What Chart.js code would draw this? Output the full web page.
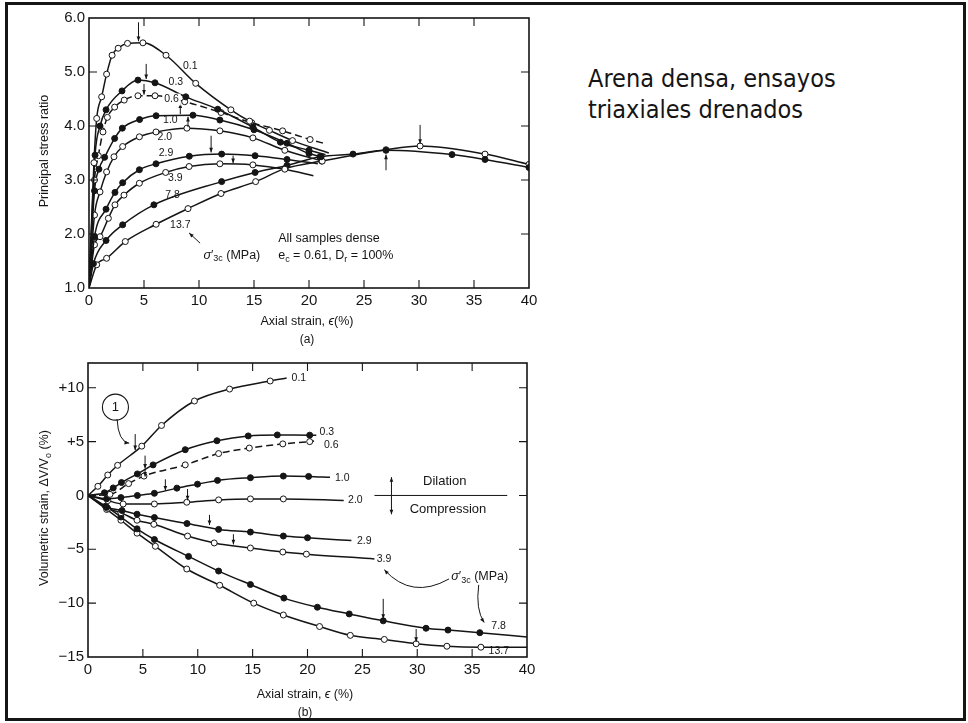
<!DOCTYPE html>
<html>
<head>
<meta charset="utf-8">
<title>Arena densa, ensayos triaxiales drenados</title>
<script src="https://cdn.jsdelivr.net/npm/chart.js@4.4.1/dist/chart.umd.min.js"></script>
<style>
  html, body { margin: 0; padding: 0; background: #fff; }
  body { position: relative; width: 968px; height: 723px; overflow: hidden; }
  #marco { position: absolute; left: 5px; top: 2px; width: 955px; height: 713px; border: 3px solid #151515; }
  #graficoA { position: absolute; left: 0; top: 0; }
  #graficoB { position: absolute; left: 0; top: 350px; }
  #titulo { position: absolute; left: 588px; top: 63px; color: #151515;
            font: 25px "DejaVu Sans Condensed", "DejaVu Sans", sans-serif; line-height: 31px; }
</style>
</head>
<body>
<div id="marco"></div>
<canvas id="graficoA" width="560" height="350"></canvas>
<canvas id="graficoB" width="560" height="373"></canvas>
<div id="titulo">Arena densa, ensayos<br>triaxiales drenados</div>
<script>
// σ'3c (MPa) de cada ensayo
const sigmaLabels = ['0.1', '0.3', '0.6', '1.0', '2.0', '2.9', '3.9', '7.8', '13.7'];
const filledMarker = [false, true, false, true, false, true, false, true, false];
const dashedLine = [false, false, true, false, false, false, false, false, false];

// (a) deformación axial (%) vs relación de esfuerzos principales
const ratio01 = [[0,1],[0.45,3.32],[0.7,4.14],[1.15,4.54],[1.6,4.96],[2.1,5.31],[2.65,5.44],[3.5,5.53],[4.9,5.54],[7.0,5.31],[9.7,4.79],[12.9,4.30],[14.6,4.09],[16.4,3.92],[18.5,3.73],[21.8,3.50]];
const ratio03 = [[0,1],[0.55,3.46],[1.0,4.0],[1.55,4.30],[3.0,4.65],[4.45,4.85],[6.0,4.80],[8.8,4.54],[11.7,4.31],[14.9,3.98],[17.4,3.70],[20.0,3.55],[21.5,3.47]];
const ratio06 = [[0,1],[0.5,3.0],[0.85,3.45],[1.27,3.89],[1.67,4.16],[2.33,4.35],[3.2,4.48],[4.45,4.56],[6.0,4.56],[8.7,4.45],[12.0,4.25],[14.8,4.06],[17.6,3.91],[20.1,3.75],[21.5,3.67]];
const ratio10 = [[0,1],[0.5,2.8],[0.9,3.2],[1.42,3.42],[2.33,3.77],[3.03,3.96],[4.6,4.12],[6.1,4.19],[9.45,4.20],[11.9,4.11],[15.0,3.93],[18.0,3.68],[20.0,3.49],[21.1,3.43]];
const ratio20 = [[0,1],[0.5,2.35],[1.0,2.78],[1.6,3.15],[2.27,3.43],[3.06,3.62],[4.58,3.80],[6.09,3.89],[8.9,3.96],[11.9,3.91],[14.9,3.78],[17.8,3.55],[21.2,3.35]];
const ratio29 = [[0,1],[0.5,1.95],[1.55,2.46],[2.36,2.77],[3.06,2.95],[4.58,3.19],[6.09,3.30],[9.12,3.44],[12.06,3.48],[15.1,3.45],[18.0,3.38],[20.8,3.30]];
const ratio39 = [[0,1],[0.5,1.8],[1.0,1.95],[1.76,2.29],[2.36,2.54],[3.18,2.72],[4.58,2.94],[6.97,3.14],[9.1,3.25],[11.9,3.30],[14.9,3.28],[17.8,3.20],[20.4,3.08]];
const ratio78 = [[0,1],[0.4,1.45],[1.55,1.88],[3.06,2.17],[5.9,2.54],[12.06,2.97],[15.1,3.14],[18.0,3.27],[21.0,3.43],[24.0,3.48],[27.0,3.55],[33.0,3.47],[36.0,3.38],[40,3.23]];
const ratio137 = [[0,1],[0.7,1.43],[1.6,1.55],[3.3,1.86],[6.1,2.18],[9.0,2.47],[12.0,2.75],[15.15,2.97],[17.8,3.21],[21.15,3.35],[27.0,3.56],[30.1,3.63],[36.0,3.48],[40,3.29]];
const ratioEndMarker = [false, false, false, true, true, false, false, true, true];

// (b) deformación axial (%) vs deformación volumétrica (%)
const vol01 = [[0,0],[0.9,0.85],[1.8,1.9],[2.7,2.8],[4.9,4.58],[6.7,6.5],[9.7,8.77],[12.9,9.88],[16.6,10.63],[18.1,10.9]];
const vol03 = [[0,0],[1.5,0.25],[2.3,0.7],[3.05,1.2],[4.5,2.0],[5.93,2.84],[8.86,4.25],[11.75,5.08],[14.6,5.53],[17.25,5.62],[20.2,5.6],[20.8,5.6]];
const vol06 = [[0,0],[2.0,0.1],[3.7,1.1],[5.1,1.8],[8.86,2.84],[11.9,3.89],[14.7,4.4],[17.75,4.79],[20.2,5.0],[20.6,5.05]];
const vol10 = [[0,0],[1.7,-0.3],[3.0,-0.2],[4.5,0.0],[6.05,0.2],[8.1,0.68],[9.98,1.05],[11.8,1.4],[14.8,1.65],[17.8,1.8],[20.1,1.77],[22.05,1.68]];
const vol20 = [[0,0],[1.8,-0.47],[3.2,-0.79],[6.05,-0.79],[9.0,-0.63],[11.9,-0.41],[14.8,-0.32],[17.8,-0.32],[23.3,-0.47]];
const vol29 = [[0,0],[1.7,-1.1],[3.1,-1.4],[4.47,-1.74],[6.05,-2.05],[9.02,-2.61],[11.9,-3.15],[14.8,-3.4],[17.8,-3.77],[20.0,-3.93],[24.0,-4.19]];
const vol39 = [[0,0],[1.8,-1.2],[3.0,-1.6],[4.47,-2.3],[6.0,-2.68],[9.07,-3.77],[11.5,-4.41],[14.8,-4.88],[17.75,-5.25],[19.9,-5.45],[26.1,-5.89]];
const vol78 = [[0,0],[1.6,-1.0],[3.0,-2.0],[4.47,-3.1],[6.05,-4.09],[9.16,-5.66],[11.9,-7.02],[14.8,-8.27],[17.85,-9.53],[20.9,-10.38],[23.8,-11.0],[26.9,-11.64],[30.8,-12.33],[32.8,-12.5],[35.7,-12.74],[40,-13.15]];
const vol137 = [[0,0],[1.7,-1.3],[3.0,-2.3],[4.47,-3.5],[6.14,-4.72],[9.0,-6.83],[12.0,-8.34],[15.1,-10.0],[17.8,-11.1],[21.1,-12.17],[23.9,-12.99],[27.0,-13.37],[29.9,-13.77],[32.7,-14.0],[35.8,-14.09],[40,-14.1]];
const volEndMarker = [false, false, false, false, false, false, false, false, false];

// flechas de pico: [deformación, desde, hasta]
const peakArrowsA = [[4.5,5.92,5.57],[5.2,5.15,4.87],[5.0,4.78,4.58],[8.3,4.22,4.42],[9.0,3.98,4.17],[11.1,3.82,3.51],[13.1,3.45,3.31],[27.0,3.18,3.47],[30.1,4.02,3.67]];
const peakArrowsB = [[4.3,5.7,4.2],[5.2,3.7,2.5],[5.2,2.45,1.75],[7.05,1.5,0.45],[9.07,0.6,-0.45],[11.07,-1.8,-2.75],[13.25,-3.6,-4.55],[26.9,-9.6,-11.45],[29.9,-12.4,-13.6]];

// posición de las etiquetas de cada curva
const labelPosA = [[9.2,5.11],[7.9,4.82],[7.5,4.49],[7.4,4.10],[6.9,3.80],[7.0,3.49],[7.85,3.03],[7.6,2.72],[8.3,2.17]];
const labelPosB = [[18.55,10.87],[21.1,5.84],[21.5,4.7],[22.5,1.64],[23.7,-0.47],[24.5,-4.25],[26.3,-5.89],[36.75,-12.17],[36.5,-14.45]];

const ratioTicks = [1, 2, 3, 4, 5, 6];
const volTicks = [-15, -10, -5, 0, 5, 10];

const FONT = '"Liberation Sans", Arial, Helvetica, sans-serif';
const INK = '#151515';

function buildSets(series, endMarker) {
  return series.map((pts, i) => ({
    label: sigmaLabels[i],
    data: pts.map(([x, y]) => ({ x, y })),
    showLine: true,
    borderColor: INK,
    borderWidth: 1.5,
    borderDash: dashedLine[i] ? [7, 4] : [],
    cubicInterpolationMode: 'monotone',
    pointBackgroundColor: filledMarker[i] ? INK : '#fff',
    pointBorderColor: INK,
    pointBorderWidth: 1,
    pointRadius: pts.map((p, j) => (j === 0 || (j === pts.length - 1 && !endMarker[i])) ? 0 : 3),
    pointHoverRadius: 0
  }));
}

function rich(ctx, parts, x, y, size, align) {
  const fontFor = k => (k === 'i' ? 'italic ' : '') + (k === 's' ? Math.round(size * 0.72) : size) + 'px ' + FONT;
  let w = 0;
  parts.forEach(([t, k]) => { ctx.font = fontFor(k); w += ctx.measureText(t).width; });
  let cx = align === 'center' ? x - w / 2 : align === 'right' ? x - w : x;
  ctx.textAlign = 'left';
  ctx.textBaseline = 'middle';
  parts.forEach(([t, k]) => {
    ctx.font = fontFor(k);
    ctx.fillText(t, cx, k === 's' ? y + size * 0.3 : y);
    cx += ctx.measureText(t).width;
  });
}

function head(ctx, fx, fy, x, y, size) {
  const a = Math.atan2(y - fy, x - fx);
  ctx.beginPath();
  ctx.moveTo(x, y);
  ctx.lineTo(x - size * Math.cos(a - 0.38), y - size * Math.sin(a - 0.38));
  ctx.lineTo(x - size * Math.cos(a + 0.38), y - size * Math.sin(a + 0.38));
  ctx.closePath();
  ctx.fill();
}

function arrow(ctx, x1, y1, x2, y2) {
  ctx.beginPath();
  ctx.moveTo(x1, y1);
  ctx.lineTo(x2, y2);
  ctx.stroke();
  head(ctx, x1, y1, x2, y2, 5);
}

function curvedArrow(ctx, p0, c, p1) {
  ctx.beginPath();
  ctx.moveTo(p0[0], p0[1]);
  ctx.quadraticCurveTo(c[0], c[1], p1[0], p1[1]);
  ctx.stroke();
  head(ctx, c[0], c[1], p1[0], p1[1], 5);
}

function decoPlugin(id, arrows, labels, labelAlign, whiteBehind, extra) {
  return {
    id,
    afterDraw(chart) {
      const { ctx, chartArea: a } = chart;
      const sx = chart.scales.x, sy = chart.scales.y;
      const px = v => sx.getPixelForValue(v);
      const py = v => sy.getPixelForValue(v);
      ctx.save();
      ctx.strokeStyle = INK;
      ctx.fillStyle = INK;
      ctx.lineWidth = 1.6;
      ctx.strokeRect(a.left, a.top, a.right - a.left, a.bottom - a.top);
      // marcas hacia adentro en los cuatro lados
      ctx.lineWidth = 1.1;
      ctx.beginPath();
      sx.ticks.forEach(t => {
        const x = px(t.value);
        if (x < a.left + 2 || x > a.right - 2) return;
        ctx.moveTo(x, a.bottom); ctx.lineTo(x, a.bottom - 8);
        ctx.moveTo(x, a.top); ctx.lineTo(x, a.top + 8);
      });
      sy.ticks.forEach(t => {
        const y = py(t.value);
        if (y < a.top + 2 || y > a.bottom - 2) return;
        ctx.moveTo(a.left, y); ctx.lineTo(a.left + 8, y);
        ctx.moveTo(a.right, y); ctx.lineTo(a.right - 8, y);
      });
      ctx.stroke();

      ctx.lineWidth = 1;
      arrows.forEach(([e, from, to]) => arrow(ctx, px(e), py(from), px(e), py(to)));

      ctx.font = '10.5px ' + FONT;
      ctx.textAlign = labelAlign;
      ctx.textBaseline = 'middle';
      labels.forEach(([e, v], i) => {
        const x = px(e), y = py(v);
        if (whiteBehind[i]) {
          const w = ctx.measureText(sigmaLabels[i]).width;
          ctx.fillStyle = '#fff';
          ctx.fillRect(labelAlign === 'center' ? x - w / 2 - 2 : x - 2, y - 6, w + 4, 12);
          ctx.fillStyle = INK;
        }
        ctx.fillText(sigmaLabels[i], x, y);
      });

      extra(ctx, px, py);
      ctx.restore();
    }
  };
}

const extrasA = (ctx, px, py) => {
  ctx.save();
  ctx.translate(45, 151);
  ctx.rotate(-Math.PI / 2);
  rich(ctx, [['Principal stress ratio', '']], 0, 0, 12.5, 'center');
  ctx.restore();
  rich(ctx, [['Axial strain, ', ''], ['ϵ', 'i'], ['(%)', '']], 307, 322, 12.5, 'center');
  rich(ctx, [['(a)', '']], 307, 340, 12, 'center');
  rich(ctx, [['σ', 'i'], ['′', ''], ['3c', 's'], [' (MPa)', '']], px(10.4), py(1.61), 12.5, 'left');
  ctx.lineWidth = 1;
  arrow(ctx, px(10.1), py(1.83), px(9.1), py(2.02));
  rich(ctx, [['All samples dense', '']], px(17.2), py(1.91), 12.5, 'left');
  rich(ctx, [['e', ''], ['c', 's'], [' = 0.61, D', ''], ['r', 's'], [' = 100%', '']], px(17.2), py(1.6), 12.5, 'left');
};

const extrasB = (ctx, px, py) => {
  ctx.save();
  ctx.translate(45, 158);
  ctx.rotate(-Math.PI / 2);
  rich(ctx, [['Volumetric strain, ΔV/V', ''], ['o', 's'], [' (%)', '']], 0, 0, 12.5, 'center');
  ctx.restore();
  rich(ctx, [['Axial strain, ', ''], ['ϵ', 'i'], [' (%)', '']], 305, 345, 12.5, 'center');
  rich(ctx, [['(b)', '']], 305, 363, 12, 'center');

  ctx.lineWidth = 1.1;
  ctx.beginPath();
  ctx.arc(px(2.5), py(8.2), 13, 0, Math.PI * 2);
  ctx.stroke();
  rich(ctx, [['1', '']], px(2.5), py(8.2), 13, 'center');
  ctx.lineWidth = 1;
  curvedArrow(ctx, [px(2.65), py(7.1)], [px(2.75), py(5.0)], [px(3.75), py(4.85)]);

  ctx.beginPath();
  ctx.moveTo(px(26.1), py(0));
  ctx.lineTo(px(38.2), py(0));
  ctx.stroke();
  arrow(ctx, px(27.65), py(0), px(27.65), py(1.7));
  arrow(ctx, px(27.65), py(0), px(27.65), py(-1.75));
  rich(ctx, [['Dilation', '']], px(32.5), py(1.3), 13, 'center');
  rich(ctx, [['Compression', '']], px(32.8), py(-1.3), 13, 'center');

  rich(ctx, [['σ', 'i'], ['′', ''], ['3c', 's'], [' (MPa)', '']], px(33.1), py(-7.55), 12.5, 'left');
  curvedArrow(ctx, [px(32.9), py(-7.75)], [px(29.5), py(-9.7)], [px(27.0), py(-6.9)]);
  curvedArrow(ctx, [px(35.6), py(-8.3)], [px(35.3), py(-10.6)], [px(36.1), py(-11.8)]);
};

function axisOptions(min, max, step, ticksFmt, size, isY) {
  return {
    type: 'linear',
    min, max,
    border: { display: false },
    grid: { display: false, drawTicks: false },
    ticks: {
      stepSize: step,
      includeBounds: false,
      padding: isY ? 4 : 4,
      color: INK,
      maxRotation: 0,
      font: { family: FONT, size: 15 },
      callback: ticksFmt
    },
    afterFit: s => { if (isY) s.width = size; else s.height = size; }
  };
}

const commonOpts = {
  responsive: false,
  animation: false,
  events: [],
  plugins: { legend: { display: false }, tooltip: { enabled: false } }
};

new Chart(document.getElementById('graficoA'), {
  type: 'scatter',
  data: {
    datasets: buildSets([ratio01, ratio03, ratio06, ratio10, ratio20, ratio29, ratio39, ratio78, ratio137], ratioEndMarker)
  },
  options: {
    ...commonOpts,
    layout: { padding: { top: 18, right: 31, bottom: 0, left: 0 } },
    scales: {
      x: axisOptions(0, 40, 5, v => String(v), 62, false),
      y: axisOptions(ratioTicks[0], ratioTicks[ratioTicks.length - 1], 1, v => v.toFixed(1), 89, true)
    }
  },
  plugins: [decoPlugin('decoA', peakArrowsA, labelPosA, 'center',
    [false, false, true, false, false, false, false, false, false], extrasA)]
});

new Chart(document.getElementById('graficoB'), {
  type: 'scatter',
  data: {
    datasets: buildSets([vol01, vol03, vol06, vol10, vol20, vol29, vol39, vol78, vol137], volEndMarker)
  },
  options: {
    ...commonOpts,
    layout: { padding: { top: 12, right: 33, bottom: 0, left: 0 } },
    scales: {
      x: axisOptions(0, 40, 5, v => String(v), 66, false),
      y: axisOptions(volTicks[0], 12.3, 5, v => v > 0 ? '+' + v : v < 0 ? '\u2212' + Math.abs(v) : '0', 88, true)
    }
  },
  plugins: [decoPlugin('decoB', peakArrowsB, labelPosB, 'left',
    [false, false, false, false, false, false, false, false, false], extrasB)]
});
</script>
</body>
</html>
